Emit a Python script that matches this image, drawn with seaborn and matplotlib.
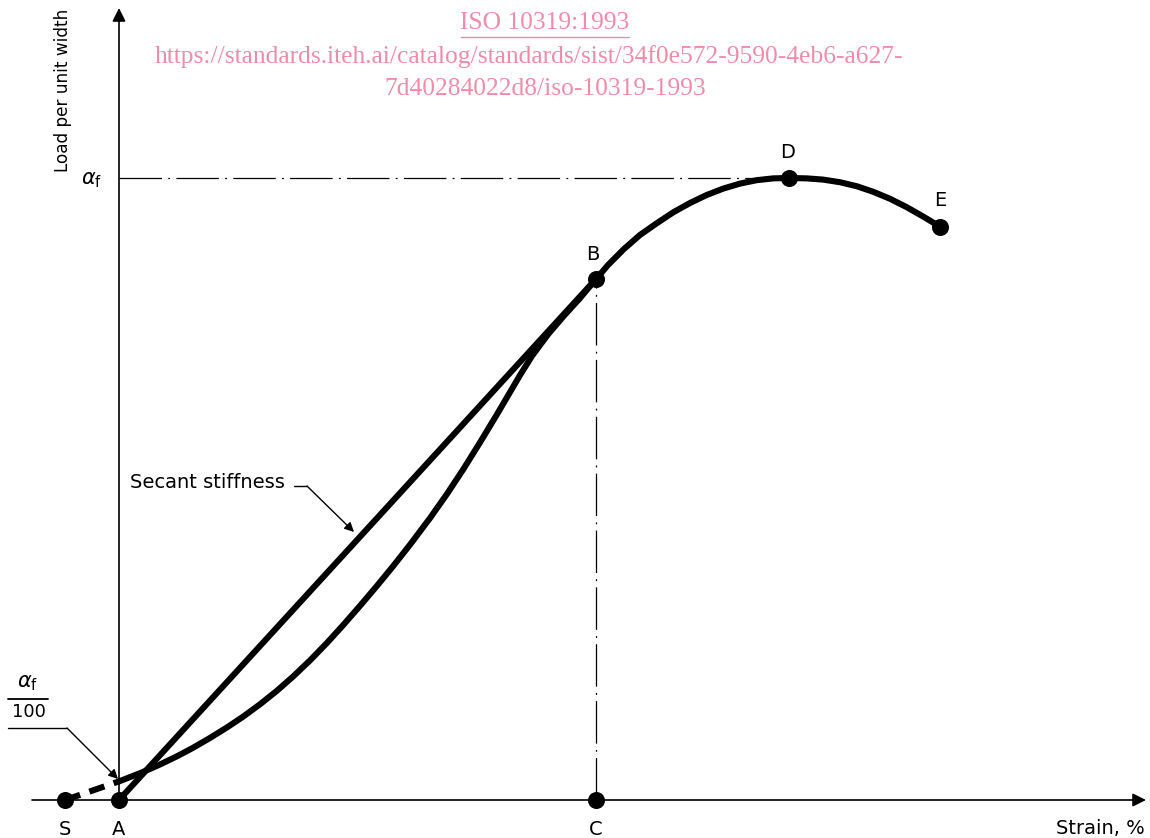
"""Load-strain curve with secant stiffness (ISO 10319 style figure)."""

import matplotlib.pyplot as plt
import numpy as np
import pandas as pd
import seaborn as sns

# strain in %, load in % of alpha_f
curve_strain = [0.021, 0.503, 0.860, 1.216, 1.551, 1.908, 2.264, 2.600, 2.956, 3.312, 3.648,
                4.004, 4.361, 4.696, 5.052, 5.409, 5.744, 6.101, 6.520, 6.876, 7.212, 7.568,
                7.925, 8.197, 8.407, 8.658, 8.994, 9.329, 9.665, 10.0,
                10.252, 10.587, 10.922, 11.273, 11.621, 11.971, 12.321, 12.669, 13.019,
                13.369, 13.717, 14.046, 14.417, 14.765, 15.115, 15.465, 15.813, 16.164,
                16.514, 16.862, 17.212]
curve_load = [3.05, 4.50, 5.71, 7.03, 8.39, 9.98, 11.67, 13.39, 15.39, 17.57, 19.84,
              22.44, 25.26, 28.09, 31.21, 34.44, 37.57, 41.05, 45.32, 49.20, 53.10, 57.48,
              62.01, 65.56, 68.30, 71.38, 74.86, 77.86, 80.69, 83.76,
              86.01, 88.59, 90.84, 92.72, 94.49, 95.98, 97.27, 98.30, 99.10,
              99.65, 99.94, 100.0, 99.94, 99.74, 99.32, 98.68, 97.78, 96.66,
              95.31, 93.79, 92.17]

toe_strain = [-1.13, 0.021]
toe_load = [0.0, 3.05]

secant_strain = [0.0, 10.0]
secant_load = [0.0, 83.76]

point_names = ["S", "A", "C", "B", "D", "E"]
point_strain = [-1.13, 0.0, 10.0, 10.0, 14.046, 17.212]
point_load = [0.0, 0.0, 0.0, 83.76, 100.0, 92.17]

# pixel -> data scale used for layout (47.7 px per % strain, 6.22 px per % load)
SX, SY = 47.7, 6.22
X0, Y0 = 119, 800


def px(x, y):
  return (x - X0) / SX, (Y0 - y) / SY


sns.set_theme(style="white")
plt.rcParams["font.family"] = ["DejaVu Sans"]
plt.rcParams["mathtext.fontset"] = "dejavusans"

fig = plt.figure(figsize=(11.5, 8.38), dpi=100)
ax = fig.add_axes([0, 0, 1, 1])
ax.set_xlim(px(0, 0)[0], px(1150, 0)[0])
ax.set_ylim(px(0, 838)[1], px(0, 0)[1])
ax.axis("off")

ink = "black"

# axes with arrows
ax.annotate("", xy=px(1146, 800), xytext=px(32, 800),
            arrowprops=dict(arrowstyle="-|>", lw=1.2, color=ink, mutation_scale=20,
                            shrinkA=0, shrinkB=0))
ax.annotate("", xy=px(119, 8), xytext=px(119, 800),
            arrowprops=dict(arrowstyle="-|>", lw=1.2, color=ink, mutation_scale=20,
                            shrinkA=0, shrinkB=0))

# dash-dot reference lines
dashdot = (0, (34, 5, 1.5, 5))
ax.plot([0, point_strain[4]], [100, 100], color=ink, lw=0.9, linestyle=dashdot)
ax.plot([point_strain[2], point_strain[3]], [0, point_load[3]], color=ink, lw=0.9,
        linestyle=dashdot)

curve_df = pd.DataFrame({"strain": curve_strain, "load": curve_load})
sns.lineplot(data=curve_df, x="strain", y="load", sort=False, estimator=None,
             color=ink, lw=4.4, ax=ax, solid_capstyle="round", solid_joinstyle="round")

secant_df = pd.DataFrame({"strain": secant_strain, "load": secant_load})
sns.lineplot(data=secant_df, x="strain", y="load", sort=False, estimator=None,
             color=ink, lw=4.4, ax=ax, solid_capstyle="round")

toe_df = pd.DataFrame({"strain": toe_strain, "load": toe_load})
sns.lineplot(data=toe_df, x="strain", y="load", sort=False, estimator=None,
             color=ink, lw=4.4, ax=ax, linestyle=(0, (2.6, 1.6)))

points_df = pd.DataFrame({"name": point_names, "strain": point_strain, "load": point_load})
sns.scatterplot(data=points_df, x="strain", y="load", color=ink, s=150, edgecolor=ink,
                linewidth=0, ax=ax, zorder=5, legend=False)

# point labels
label_pos = {"S": (65, 829), "A": (119, 829), "C": (596, 829),
             "B": (593, 255), "D": (788, 153), "E": (940, 201)}
for name in point_names:
  ax.text(*px(*label_pos[name]), name, ha="center", va="center", fontsize=14, color=ink)

ax.text(*px(1145, 828), "Strain, %", ha="right", va="center", fontsize=14, color=ink)
ax.text(*px(63, 90), "Load per unit width", ha="center", va="center", rotation=90,
        fontsize=12.2, color=ink)
ax.text(*px(92, 180), r"$\alpha_{\mathrm{f}}$", ha="center", va="center", fontsize=15,
        color=ink)

# alpha_f / 100 fraction with leader
ax.text(*px(28, 683), r"$\alpha_{\mathrm{f}}$", ha="center", va="center", fontsize=15,
        color=ink)
ax.plot(*np.array([px(8, 699), px(48, 699)]).T, color=ink, lw=1.3)
ax.text(*px(29, 712), "100", ha="center", va="center", fontsize=13, color=ink)
ax.plot(*np.array([px(8, 728), px(67, 728)]).T, color=ink, lw=1.0)
ax.annotate("", xy=px(118, 779), xytext=px(67, 728),
            arrowprops=dict(arrowstyle="-|>", lw=1.0, color=ink, mutation_scale=14,
                            shrinkA=0, shrinkB=0))

# secant stiffness label with leader
ax.text(*px(130, 483), "Secant stiffness", ha="left", va="center", fontsize=14, color=ink)
ax.plot(*np.array([px(294, 486), px(307, 486)]).T, color=ink, lw=1.0)
ax.annotate("", xy=px(354, 532), xytext=px(307, 486),
            arrowprops=dict(arrowstyle="-|>", lw=1.0, color=ink, mutation_scale=14,
                            shrinkA=0, shrinkB=0))

# watermark text
pink = "#F08CAA"
serif = ["Liberation Serif", "DejaVu Serif"]
ax.text(*px(545, 23), "ISO 10319:1993", ha="center", va="center", fontsize=18.4,
        color=pink, family=serif)
ax.plot(*np.array([px(461, 37), px(629, 37)]).T, color=pink, lw=1.0)
ax.text(*px(529, 57), "https://standards.iteh.ai/catalog/standards/sist/34f0e572-9590-4eb6-a627-",
        ha="center", va="center", fontsize=18.4, color=pink, family=serif)
ax.text(*px(545, 89), "7d40284022d8/iso-10319-1993", ha="center", va="center",
        fontsize=18.4, color=pink, family=serif)

fig.savefig("out.png", dpi=100, facecolor="white")
plt.close(fig)
